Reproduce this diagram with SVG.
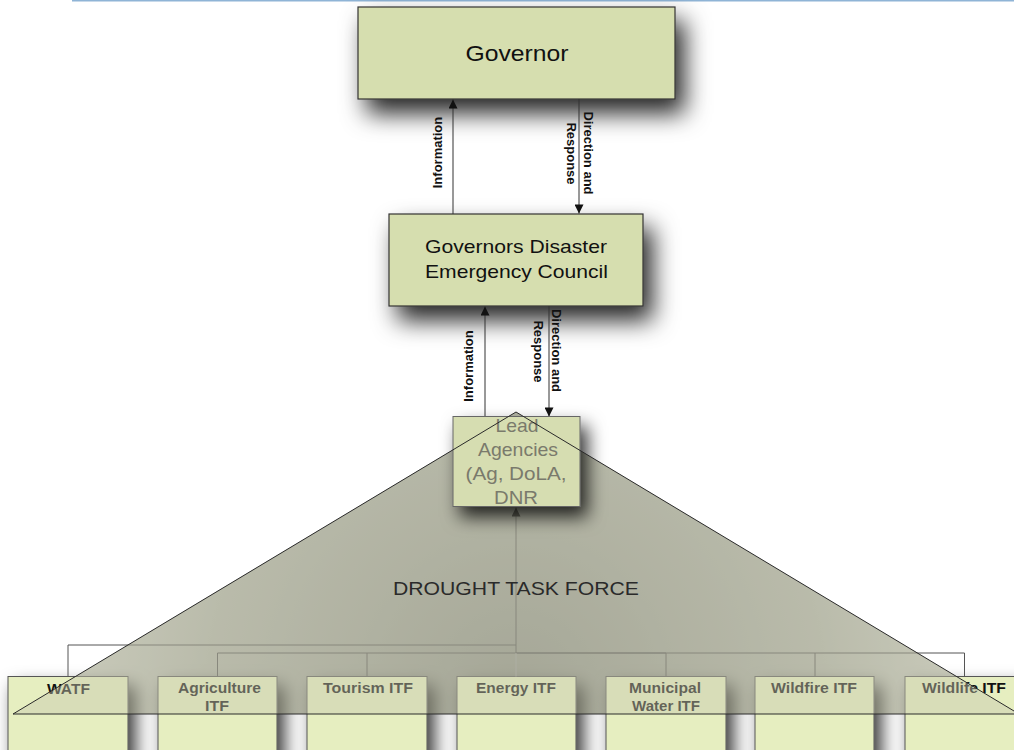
<svg xmlns="http://www.w3.org/2000/svg" width="1014" height="750" viewBox="0 0 1014 750">
<defs>
<style>
.box{fill:#d6deaf;stroke:#333;stroke-width:1.2}
.itf{fill:#e6eec0;stroke:#555;stroke-width:1}
.t{font-family:"Liberation Sans",Arial,sans-serif;fill:#111;text-anchor:middle}
.lbl{font-family:"Liberation Sans",Arial,sans-serif;font-weight:bold;font-size:13px;fill:#111;text-anchor:middle}
.hdr{font-family:"Liberation Sans",Arial,sans-serif;font-weight:bold;font-size:14.5px;fill:#111;text-anchor:middle}
.conn{fill:none;stroke:#333;stroke-width:1}
.tree{fill:none;stroke:#555;stroke-width:1}
</style>
<marker id="arr" viewBox="0 0 10 10" refX="10" refY="5" markerWidth="10" markerHeight="9" markerUnits="userSpaceOnUse" orient="auto">
<path d="M0,0 L10,5 L0,10 z" fill="#111"/>
</marker>
<filter id="sh" x="-40%" y="-40%" width="190%" height="220%">
<feDropShadow dx="9" dy="14" stdDeviation="12" flood-color="#000" flood-opacity="0.85"/>
</filter>
<filter id="shs" x="-40%" y="-40%" width="190%" height="190%">
<feDropShadow dx="7" dy="10" stdDeviation="9" flood-color="#000" flood-opacity="0.8"/>
</filter>
<radialGradient id="dtfg" gradientUnits="userSpaceOnUse" cx="516" cy="690" r="560">
<stop offset="0" stop-color="#8a8d84"/>
<stop offset="0.55" stop-color="#aeb1a7"/>
<stop offset="1" stop-color="#e0e2da"/>
</radialGradient>
</defs>
<rect x="0" y="0" width="1014" height="750" fill="#fff"/>
<line x1="72" y1="0.7" x2="1014" y2="0.7" stroke="#8fb4d6" stroke-width="1.5"/>

<g id="node-governor">
<rect class="box" x="358" y="7" width="317" height="92" filter="url(#sh)"/>
<text class="t" x="517" y="61" font-size="21.5" textLength="103" lengthAdjust="spacingAndGlyphs">Governor</text>
</g>

<g id="node-council">
<rect class="box" x="389" y="214" width="254" height="92" filter="url(#sh)"/>
<text class="t" x="516" y="253" font-size="18.5" textLength="182" lengthAdjust="spacingAndGlyphs">Governors Disaster</text>
<text class="t" x="516.5" y="278" font-size="18.5" textLength="183" lengthAdjust="spacingAndGlyphs">Emergency Council</text>
</g>

<g id="connectors-top">
<line class="conn" x1="453" y1="214" x2="453" y2="99.5" marker-end="url(#arr)"/>
<line class="conn" x1="579" y1="99" x2="579" y2="213.5" marker-end="url(#arr)"/>
<line class="conn" x1="485" y1="417" x2="485" y2="306.5" marker-end="url(#arr)"/>
<line class="conn" x1="549" y1="306" x2="549" y2="416.5" marker-end="url(#arr)"/>
<text class="lbl" transform="translate(442,152.5) rotate(-90)">Information</text>
<text class="lbl" transform="translate(584,153) rotate(90)">Direction and</text>
<text class="lbl" transform="translate(567,153.5) rotate(90)">Response</text>
<text class="lbl" transform="translate(473,366) rotate(-90)">Information</text>
<text class="lbl" transform="translate(552,350.5) rotate(90)">Direction and</text>
<text class="lbl" transform="translate(534,351.5) rotate(90)">Response</text>
</g>

<g id="dtf-base">
<polygon points="516,412 13,714 1019,714" fill="url(#dtfg)"/>
</g>

<g id="node-watf">
<rect class="itf" x="8" y="676.5" width="120" height="90" filter="url(#shs)"/>
<text class="hdr" x="68.5" y="694" textLength="43" lengthAdjust="spacingAndGlyphs">WATF</text>
</g>
<g id="node-agriculture">
<rect class="itf" x="158" y="676.5" width="119" height="90" filter="url(#shs)"/>
<text class="hdr" x="219.5" y="693" textLength="83" lengthAdjust="spacingAndGlyphs">Agriculture</text>
<text class="hdr" x="217" y="711" textLength="24" lengthAdjust="spacingAndGlyphs">ITF</text>
</g>
<g id="node-tourism">
<rect class="itf" x="307" y="676.5" width="120" height="90" filter="url(#shs)"/>
<text class="hdr" x="368" y="693" textLength="90" lengthAdjust="spacingAndGlyphs">Tourism ITF</text>
</g>
<g id="node-energy">
<rect class="itf" x="457" y="676.5" width="119" height="90" filter="url(#shs)"/>
<text class="hdr" x="516" y="693" textLength="80" lengthAdjust="spacingAndGlyphs">Energy ITF</text>
</g>
<g id="node-municipal">
<rect class="itf" x="606" y="676.5" width="120" height="90" filter="url(#shs)"/>
<text class="hdr" x="665" y="693" textLength="72" lengthAdjust="spacingAndGlyphs">Municipal</text>
<text class="hdr" x="666" y="711" textLength="68" lengthAdjust="spacingAndGlyphs">Water ITF</text>
</g>
<g id="node-wildfire">
<rect class="itf" x="755" y="676.5" width="119" height="90" filter="url(#shs)"/>
<text class="hdr" x="814" y="693" textLength="86" lengthAdjust="spacingAndGlyphs">Wildfire ITF</text>
</g>
<g id="node-wildlife">
<rect class="itf" x="905" y="676.5" width="120" height="90" filter="url(#shs)"/>
<text class="hdr" x="964" y="693" textLength="84" lengthAdjust="spacingAndGlyphs">Wildlife ITF</text>
</g>

<g id="connectors-tree">
<path class="tree" d="M68,676.5 V645 H516"/>
<path class="tree" d="M217.5,676.5 V653 H516"/>
<path class="tree" d="M367,676.5 V653"/>
<path class="tree" d="M666,676.5 V653 H516"/>
<path class="tree" d="M815,676.5 V653"/>
<path class="tree" d="M964.5,676.5 V653 H516"/>
<line x1="516" y1="676.5" x2="516" y2="653" stroke="#999" stroke-width="1"/>
<line class="tree" x1="516" y1="653" x2="516" y2="507.5" marker-end="url(#arr)"/>
</g>

<g id="dtf-overlay">
<polygon points="516,412 13,714 1019,714" fill="#c8c8af" fill-opacity="0.45"/>
</g>

<g id="node-lead">
<rect x="453" y="416.5" width="127" height="90" fill="#d6ddb1" stroke="#666" stroke-width="1" filter="url(#shs)"/>
<g class="t" font-size="19" style="fill:#7a7a6c">
<text x="517" y="432" textLength="43" lengthAdjust="spacingAndGlyphs">Lead</text>
<text x="518" y="456" textLength="80" lengthAdjust="spacingAndGlyphs">Agencies</text>
<text x="516" y="480" textLength="101" lengthAdjust="spacingAndGlyphs">(Ag, DoLA,</text>
<text x="516" y="504" textLength="44" lengthAdjust="spacingAndGlyphs">DNR</text>
</g>
</g>

<g id="dtf-outline">
<polygon points="516,412 13,714 1019,714" fill="none" stroke="#2a2a2a" stroke-width="1"/>
<text class="t" x="516" y="595" font-size="18.5" textLength="246" lengthAdjust="spacingAndGlyphs" style="fill:#2a2a2a">DROUGHT TASK FORCE</text>
</g>
</svg>
